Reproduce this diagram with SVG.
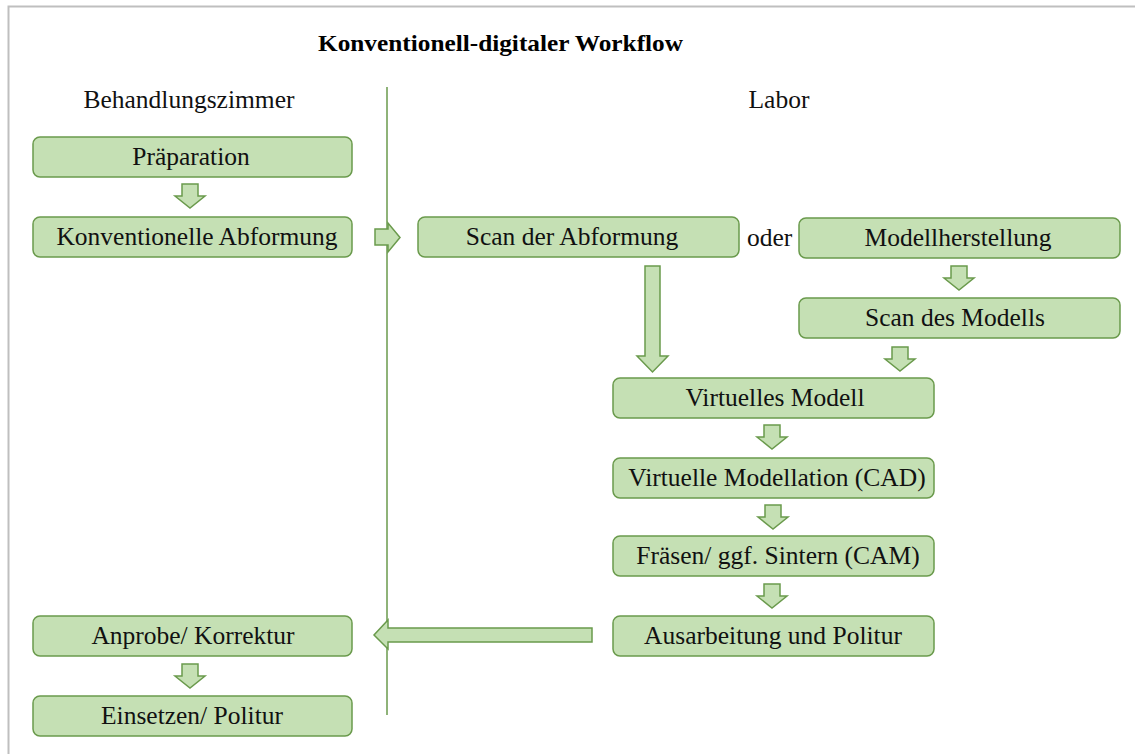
<svg xmlns="http://www.w3.org/2000/svg" width="1135" height="754" viewBox="0 0 1135 754">
<style>
.box{fill:#c5e0b4;stroke:#6a9a4c;stroke-width:1.5}
.arr{fill:#c5e0b4;stroke:#6a9a4c;stroke-width:1.5;stroke-linejoin:miter}
text{font-family:'Liberation Serif','DejaVu Serif','Times New Roman',serif;fill:#111}
.t{font-size:25.5px;text-anchor:middle}
.h{font-size:25.5px}
.title{font-size:23px;font-weight:bold;fill:#000}
</style>
<defs>
<path id="dn" class="arr" d="M-8,0 H8 V12 H15 L0,24 L-15,12 H-8 Z"/>
</defs>
<rect width="1135" height="754" fill="#fff"/>
<path d="M8.5,754 V6.5 H1135" fill="none" stroke="#bfbfbf" stroke-width="2"/>
<text class="title" x="318" y="51" textLength="365" lengthAdjust="spacingAndGlyphs">Konventionell-digitaler Workflow</text>
<text class="t" x="189" y="108">Behandlungszimmer</text>
<text class="t" x="779" y="108">Labor</text>
<line x1="387" y1="87" x2="387" y2="715" stroke="#6a9a4c" stroke-width="1.5"/>
<g id="connectors">
<use href="#dn" x="190" y="184"/>
<use href="#dn" x="190" y="664"/>
<use href="#dn" x="959" y="266"/>
<use href="#dn" x="900" y="347"/>
<use href="#dn" x="772" y="425"/>
<use href="#dn" x="773" y="505"/>
<use href="#dn" x="772" y="584"/>
<path class="arr" d="M375,229 H388 V223 L400,237.5 L388,252 V245 H375 Z"/>
<path class="arr" d="M645,266 H660 V356 H668 L652.5,372 L637,356 H645 Z"/>
<path class="arr" d="M592,628 V642 H388 V649 L374,635 L388,620 V628 Z"/>
</g>
<g id="n1"><rect class="box" x="33" y="137" width="319" height="40" rx="7"/><text class="t" x="191" y="165">Präparation</text></g>
<g id="n2"><rect class="box" x="33" y="217" width="319" height="40" rx="7"/><text class="t" x="197" y="245">Konventionelle Abformung</text></g>
<g id="n3"><rect class="box" x="418" y="217" width="321" height="40" rx="7"/><text class="t" x="572" y="245">Scan der Abformung</text></g>
<text class="h" x="747" y="246">oder</text>
<g id="n4"><rect class="box" x="799" y="218" width="321" height="40" rx="7"/><text class="t" x="958" y="246">Modellherstellung</text></g>
<g id="n5"><rect class="box" x="799" y="298" width="321" height="40" rx="7"/><text class="t" x="955" y="326">Scan des Modells</text></g>
<g id="n6"><rect class="box" x="613" y="378" width="321" height="40" rx="7"/><text class="t" x="775" y="406">Virtuelles Modell</text></g>
<g id="n7"><rect class="box" x="613" y="458" width="321" height="40" rx="7"/><text class="t" x="777" y="486">Virtuelle Modellation (CAD)</text></g>
<g id="n8"><rect class="box" x="613" y="536" width="321" height="40" rx="7"/><text class="t" x="778" y="564">Fräsen/ ggf. Sintern (CAM)</text></g>
<g id="n9"><rect class="box" x="613" y="616" width="321" height="40" rx="7"/><text class="t" x="773" y="644">Ausarbeitung und Politur</text></g>
<g id="n10"><rect class="box" x="33" y="616" width="319" height="40" rx="7"/><text class="t" x="193" y="644">Anprobe/ Korrektur</text></g>
<g id="n11"><rect class="box" x="33" y="696" width="319" height="40" rx="7"/><text class="t" x="192" y="724">Einsetzen/ Politur</text></g>
</svg>
